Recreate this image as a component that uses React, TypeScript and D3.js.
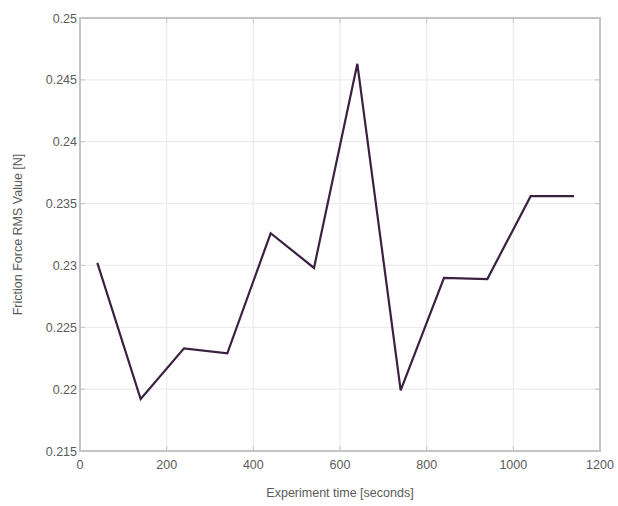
import React from "react";
import * as d3 from "d3";

const times = [40, 140, 240, 340, 440, 540, 640, 740, 840, 940, 1040, 1140];
const rmsValues = [0.2302, 0.2192, 0.2233, 0.2229, 0.2326, 0.2298, 0.2463, 0.2199, 0.2290, 0.2289, 0.2356, 0.2356];
const xTicks = [0, 200, 400, 600, 800, 1000, 1200];
const yTicks = [0.215, 0.22, 0.225, 0.23, 0.235, 0.24, 0.245, 0.25];
const xLabel = "Experiment time [seconds]";
const yLabel = "Friction Force RMS Value [N]";

export default function App() {
  const W = 618, H = 506;
  const left = 80, right = 600, top = 18, bottom = 451;
  const x = d3.scaleLinear().domain([0, 1200]).range([left, right]);
  const y = d3.scaleLinear().domain([0.215, 0.25]).range([bottom, top]);
  const line = d3.line<number>().x((_, i) => x(times[i])).y((d) => y(d));
  const font = "'Liberation Sans', Arial, sans-serif";
  const textColor = "#5a5a5a";
  const axisColor = "#c4c4c4";
  const gridColor = "#ececec";
  return (
    <svg width={W} height={H} style={{ position: "absolute", left: 0, top: 0, background: "#fff" }}>
      <rect x={0} y={0} width={W} height={H} fill="#fff" />
      {xTicks.slice(1, -1).map((t) => (
        <line key={"gx" + t} x1={x(t)} x2={x(t)} y1={top} y2={bottom} stroke={gridColor} strokeWidth={1.2} />
      ))}
      {yTicks.slice(1, -1).map((t) => (
        <line key={"gy" + t} x1={left} x2={right} y1={y(t)} y2={y(t)} stroke={gridColor} strokeWidth={1.2} />
      ))}
      <rect x={left} y={top} width={right - left} height={bottom - top} fill="none" stroke={axisColor} strokeWidth={2} />
      {xTicks.map((t) => (
        <g key={"tx" + t}>
          <line x1={x(t)} x2={x(t)} y1={bottom} y2={bottom - 5} stroke={axisColor} strokeWidth={1} />
          <line x1={x(t)} x2={x(t)} y1={top} y2={top + 5} stroke={axisColor} strokeWidth={1} />
          <text x={x(t)} y={bottom + 18} textAnchor="middle" fontFamily={font} fontSize={12.5} fill={textColor}>
            {t}
          </text>
        </g>
      ))}
      {yTicks.map((t) => (
        <g key={"ty" + t}>
          <line x1={left} x2={left + 5} y1={y(t)} y2={y(t)} stroke={axisColor} strokeWidth={1} />
          <line x1={right} x2={right - 5} y1={y(t)} y2={y(t)} stroke={axisColor} strokeWidth={1} />
          <text x={left - 3} y={y(t) + 4.5} textAnchor="end" fontFamily={font} fontSize={12.5} fill={textColor}>
            {d3.format("")(+t.toFixed(3))}
          </text>
        </g>
      ))}
      <path d={line(rmsValues) || ""} fill="none" stroke="#3a2140" strokeWidth={2.2} strokeLinejoin="miter" />
      <text x={(left + right) / 2} y={497} textAnchor="middle" fontFamily={font} fontSize={12.5} fill={textColor}>
        {xLabel}
      </text>
      <text
        transform={`translate(22, ${(top + bottom) / 2}) rotate(-90)`}
        textAnchor="middle"
        fontFamily={font}
        fontSize={12.5}
        fill={textColor}
      >
        {yLabel}
      </text>
    </svg>
  );
}
